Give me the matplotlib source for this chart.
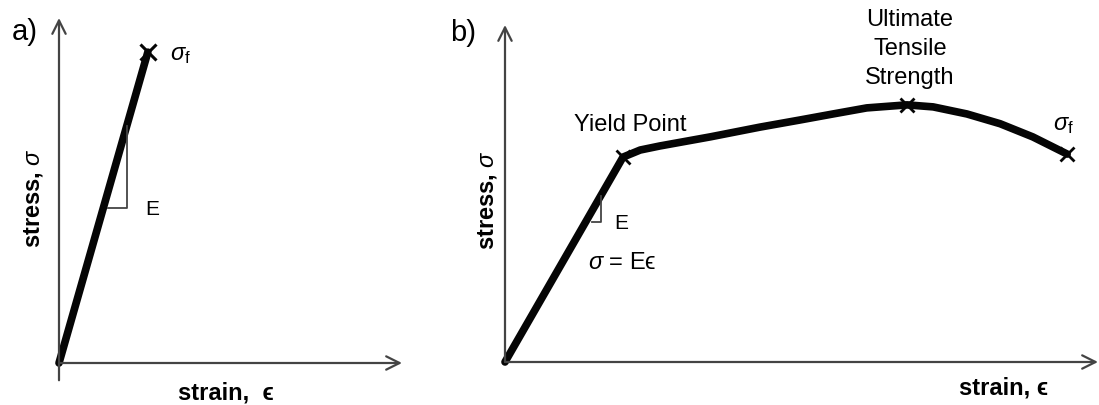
import matplotlib
matplotlib.use("Agg")
import matplotlib.pyplot as plt

plt.rcParams["font.family"] = ["Liberation Sans", "DejaVu Sans"]
plt.rcParams["mathtext.fontset"] = "custom"
plt.rcParams["mathtext.rm"] = "Liberation Sans"
plt.rcParams["mathtext.it"] = "Liberation Sans:italic"
plt.rcParams["mathtext.bf"] = "Liberation Sans:bold"
plt.rcParams["mathtext.fallback"] = "stixsans"

# (a) brittle material: linear elastic up to fracture
strain_a = [0.0, 0.259]
stress_a = [0.0, 0.901]

# (b) ductile material: elastic line, strain hardening, necking to fracture
strain_b = [0.0, 0.199, 0.228, 0.261, 0.346, 0.430, 0.497, 0.553, 0.610,
            0.678, 0.722, 0.779, 0.835, 0.890, 0.948]
stress_b = [0.0, 0.608, 0.629, 0.641, 0.668, 0.697, 0.718, 0.736, 0.754,
            0.763, 0.757, 0.736, 0.707, 0.668, 0.617]
yield_idx, uts_idx, frac_idx = 1, 9, 14

W, H = 1099, 405
fig = plt.figure(figsize=(W / 100, H / 100), dpi=100)

AX_COL = "#444444"
LINE_COL = "#050505"
FS = 17


def make_axes(x0, y0, x1, y1):
    ax = fig.add_axes([x0 / W, (H - y0) / H, (x1 - x0) / W, (y0 - y1) / H])
    ax.set_xlim(0, 1)
    ax.set_ylim(0, 1)
    ax.axis("off")
    return ax


def axis_arrow(ax, start, end):
    ax.annotate("", xy=end, xytext=start,
                arrowprops=dict(arrowstyle="->", lw=1.6, color=AX_COL,
                                mutation_scale=24, shrinkA=0, shrinkB=0),
                annotation_clip=False)


# ---- panel a ----
axa = make_axes(59, 363, 402, 18)
axis_arrow(axa, (0, -0.05), (0, 1.0))
axis_arrow(axa, (0, 0), (1.0, 0))
axa.plot(strain_a, stress_a, color=LINE_COL, lw=5.5, solid_capstyle="round", clip_on=False)
axa.plot(strain_a[-1], stress_a[-1], marker="x", ms=11, mew=2.2, color=LINE_COL, clip_on=False)
# slope triangle
axa.plot([0.143, 0.198, 0.198], [0.449, 0.449, 0.686], color=AX_COL, lw=1.3)
axa.text(0.271, 0.446, "E", fontsize=15, ha="center", va="center")
axa.text(0.353, 0.893, r"$\sigma_{\mathrm{f}}$", fontsize=FS, ha="center", va="center")
axa.text(-0.099, 0.959, "a)", fontsize=21, ha="center", va="center")
axa.text(-0.073, 0.478, r"stress, $\sigma$", fontsize=FS, fontweight="bold",
         rotation=90, ha="center", va="center")
axa.text(0.487, -0.087, "strain,  ϵ", fontsize=FS, fontweight="bold",
         ha="center", va="center")

# ---- panel b ----
axb = make_axes(505, 362, 1098, 25)
axis_arrow(axb, (0, 0), (0, 1.0))
axis_arrow(axb, (0, 0), (1.0, 0))
axb.plot(strain_b, stress_b, color=LINE_COL, lw=5.5, solid_capstyle="round",
         solid_joinstyle="round", clip_on=False)
for i in (yield_idx, uts_idx, frac_idx):
    axb.plot(strain_b[i], stress_b[i], marker="x", ms=10, mew=2.0, color=LINE_COL, clip_on=False)
# slope triangle
axb.plot([0.147, 0.162, 0.162], [0.415, 0.415, 0.493], color=AX_COL, lw=1.3)
axb.text(0.196, 0.412, "E", fontsize=15, ha="center", va="center")
axb.text(0.197, 0.294, r"$\sigma$ = Eϵ", fontsize=FS, ha="center", va="center")
axb.text(0.212, 0.703, "Yield Point", fontsize=FS, ha="center", va="center")
axb.text(0.683, 0.929, "Ultimate\nTensile\nStrength", fontsize=FS, ha="center",
         va="center", linespacing=1.4)
axb.text(0.941, 0.703, r"$\sigma_{\mathrm{f}}$", fontsize=FS, ha="center", va="center")
axb.text(-0.071, 0.976, "b)", fontsize=21, ha="center", va="center")
axb.text(-0.030, 0.481, r"stress, $\sigma$", fontsize=FS, fontweight="bold",
         rotation=90, ha="center", va="center")
axb.text(0.841, -0.077, "strain, ϵ", fontsize=FS, fontweight="bold",
         ha="center", va="center")

fig.savefig("out.png", dpi=100, facecolor="white")
